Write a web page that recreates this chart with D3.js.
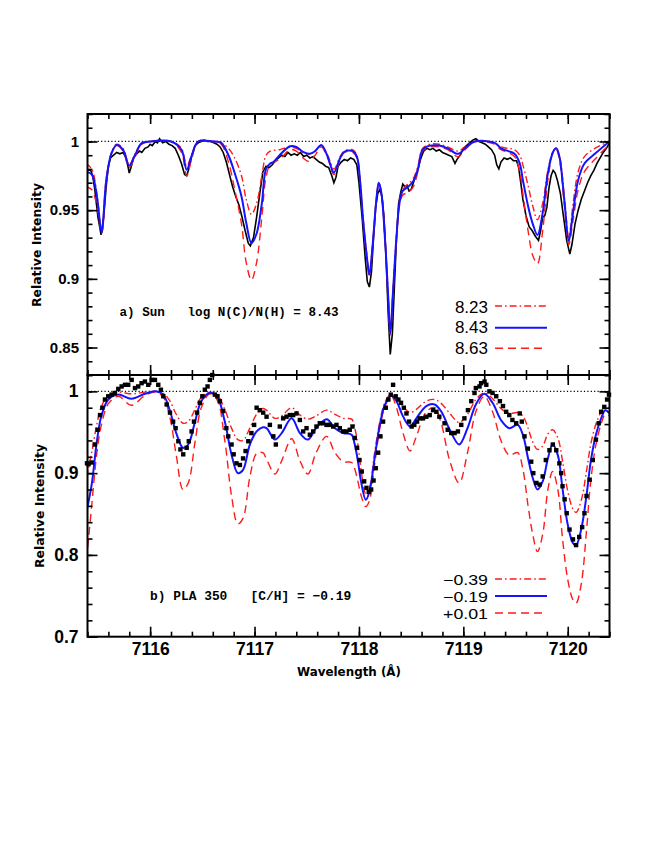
<!DOCTYPE html>
<html><head><meta charset="utf-8">
<script src="https://cdn.jsdelivr.net/npm/d3@7/dist/d3.min.js"></script>
<style>body{margin:0;background:#fff}svg{display:block}</style>
</head><body><svg id="c" width="664" height="860"></svg>
<script>
// ---------- data ----------
const xTicksMajor = [7116, 7117, 7118, 7119, 7120];
const yTicksTop = [0.85, 0.9, 0.95, 1];
const yTicksBottom = [0.7, 0.8, 0.9, 1];
const legendTop = ["8.23", "8.43", "8.63"];
const legendBottom = ["\u22120.39", "\u22120.19", "+0.01"];

const sunObserved = [[7115.38,0.976],[7115.40,0.979],[7115.43,0.979],[7115.45,0.975],[7115.47,0.965],[7115.50,0.945],[7115.53,0.932],[7115.555,0.945],[7115.58,0.968],[7115.60,0.982],[7115.62,0.988],[7115.65,0.990],[7115.68,0.992],[7115.71,0.991],[7115.74,0.992],[7115.77,0.988],[7115.79,0.981],[7115.80,0.977],[7115.82,0.982],[7115.84,0.988],[7115.87,0.991],[7115.90,0.993],[7115.92,0.992],[7115.95,0.995],[7115.98,0.996],[7116.00,0.998],[7116.02,0.997],[7116.05,1.000],[7116.07,0.999],[7116.09,1.002],[7116.12,0.999],[7116.15,1.000],[7116.18,0.998],[7116.21,0.997],[7116.24,0.995],[7116.27,0.990],[7116.30,0.984],[7116.33,0.976],[7116.35,0.975],[7116.37,0.980],[7116.40,0.990],[7116.43,0.997],[7116.46,0.999],[7116.49,1.000],[7116.52,1.001],[7116.55,1.000],[7116.58,1.000],[7116.61,0.999],[7116.64,0.998],[7116.67,0.996],[7116.70,0.992],[7116.73,0.985],[7116.76,0.976],[7116.79,0.967],[7116.82,0.960],[7116.85,0.954],[7116.88,0.945],[7116.91,0.935],[7116.94,0.926],[7116.96,0.924],[7116.99,0.930],[7117.02,0.945],[7117.05,0.962],[7117.08,0.978],[7117.11,0.982],[7117.14,0.981],[7117.17,0.983],[7117.20,0.986],[7117.23,0.988],[7117.26,0.990],[7117.29,0.989],[7117.32,0.992],[7117.35,0.990],[7117.38,0.991],[7117.41,0.990],[7117.44,0.992],[7117.47,0.989],[7117.50,0.990],[7117.53,0.988],[7117.56,0.989],[7117.59,0.987],[7117.62,0.985],[7117.65,0.984],[7117.68,0.982],[7117.71,0.981],[7117.74,0.975],[7117.76,0.970],[7117.78,0.974],[7117.80,0.982],[7117.83,0.985],[7117.86,0.987],[7117.89,0.986],[7117.92,0.988],[7117.95,0.987],[7117.98,0.983],[7118.00,0.970],[7118.03,0.945],[7118.06,0.915],[7118.08,0.898],[7118.10,0.894],[7118.12,0.905],[7118.14,0.930],[7118.16,0.952],[7118.18,0.962],[7118.20,0.965],[7118.22,0.960],[7118.24,0.945],[7118.26,0.915],[7118.28,0.875],[7118.30,0.845],[7118.32,0.860],[7118.34,0.895],[7118.36,0.930],[7118.38,0.955],[7118.40,0.963],[7118.42,0.969],[7118.44,0.967],[7118.46,0.968],[7118.48,0.964],[7118.50,0.965],[7118.53,0.972],[7118.56,0.978],[7118.59,0.987],[7118.62,0.993],[7118.65,0.995],[7118.68,0.994],[7118.71,0.995],[7118.74,0.993],[7118.77,0.994],[7118.80,0.992],[7118.83,0.991],[7118.86,0.990],[7118.89,0.989],[7118.92,0.984],[7118.94,0.987],[7118.97,0.990],[7119.00,0.995],[7119.03,0.997],[7119.06,0.999],[7119.09,1.001],[7119.12,1.002],[7119.15,1.000],[7119.18,0.999],[7119.21,0.998],[7119.24,0.996],[7119.27,0.994],[7119.30,0.990],[7119.32,0.983],[7119.34,0.980],[7119.36,0.985],[7119.39,0.988],[7119.42,0.987],[7119.45,0.988],[7119.48,0.986],[7119.51,0.986],[7119.53,0.981],[7119.55,0.970],[7119.57,0.958],[7119.60,0.946],[7119.63,0.938],[7119.66,0.935],[7119.69,0.931],[7119.72,0.928],[7119.74,0.935],[7119.76,0.945],[7119.78,0.946],[7119.80,0.952],[7119.82,0.966],[7119.84,0.975],[7119.86,0.979],[7119.88,0.977],[7119.90,0.972],[7119.93,0.962],[7119.96,0.945],[7119.99,0.928],[7120.02,0.918],[7120.04,0.925],[7120.07,0.940],[7120.10,0.950],[7120.13,0.958],[7120.16,0.964],[7120.19,0.970],[7120.22,0.975],[7120.25,0.979],[7120.28,0.984],[7120.31,0.988],[7120.34,0.992],[7120.37,0.995],[7120.40,0.999]];

const sunFit843 = [[7115.38,0.978],[7115.44,0.976],[7115.49,0.960],[7115.535,0.934],[7115.58,0.972],[7115.63,0.9916],[7115.68,0.9975],[7115.74,0.994],[7115.80,0.9824],[7115.855,0.990],[7115.92,0.9988],[7116.0,1.0],[7116.2,1.0],[7116.30,0.994],[7116.35,0.9795],[7116.40,0.990],[7116.46,1.0],[7116.60,1.0],[7116.68,0.999],[7116.75,0.990],[7116.81,0.977],[7116.875,0.960],[7116.92,0.941],[7116.97,0.926],[7117.02,0.933],[7117.07,0.955],[7117.11,0.980],[7117.15,0.984],[7117.18,0.985],[7117.24,0.990],[7117.34,0.9965],[7117.40,0.996],[7117.465,0.9925],[7117.53,0.991],[7117.58,0.993],[7117.64,0.9975],[7117.70,0.989],[7117.76,0.9775],[7117.82,0.988],[7117.86,0.9925],[7117.94,0.993],[7117.98,0.989],[7118.01,0.972],[7118.04,0.943],[7118.075,0.9165],[7118.10,0.903],[7118.13,0.9235],[7118.17,0.960],[7118.19,0.970],[7118.215,0.9625],[7118.25,0.9285],[7118.28,0.8875],[7118.30,0.860],[7118.325,0.889],[7118.36,0.931],[7118.39,0.956],[7118.42,0.964],[7118.47,0.967],[7118.52,0.971],[7118.565,0.980],[7118.61,0.994],[7118.68,0.997],[7118.77,0.997],[7118.85,0.995],[7118.95,0.991],[7119.03,0.996],[7119.11,1.0],[7119.30,0.999],[7119.36,0.995],[7119.43,0.993],[7119.49,0.991],[7119.54,0.984],[7119.57,0.972],[7119.62,0.953],[7119.665,0.940],[7119.71,0.932],[7119.76,0.948],[7119.81,0.977],[7119.86,0.9925],[7119.89,0.995],[7119.92,0.989],[7119.97,0.955],[7120.01,0.9274],[7120.05,0.948],[7120.10,0.972],[7120.16,0.984],[7120.26,0.991],[7120.4,1.0]];

const sunFit823 = [[7115.38,0.984],[7115.44,0.980],[7115.49,0.962],[7115.535,0.934],[7115.58,0.973],[7115.63,0.992],[7115.68,0.998],[7115.74,0.995],[7115.80,0.983],[7115.855,0.991],[7115.92,0.999],[7116.0,1.0],[7116.2,1.0],[7116.30,0.995],[7116.35,0.982],[7116.40,0.991],[7116.46,1.0],[7116.60,1.0],[7116.68,0.999],[7116.75,0.995],[7116.81,0.988],[7116.875,0.975],[7116.92,0.958],[7116.97,0.947],[7117.02,0.955],[7117.07,0.975],[7117.11,0.990],[7117.15,0.993],[7117.24,0.994],[7117.34,0.996],[7117.40,0.995],[7117.465,0.992],[7117.53,0.991],[7117.58,0.993],[7117.64,0.997],[7117.70,0.990],[7117.76,0.980],[7117.82,0.989],[7117.86,0.993],[7117.94,0.994],[7117.98,0.990],[7118.01,0.973],[7118.04,0.944],[7118.075,0.918],[7118.10,0.905],[7118.13,0.925],[7118.17,0.961],[7118.19,0.970],[7118.215,0.963],[7118.25,0.929],[7118.28,0.888],[7118.30,0.861],[7118.325,0.890],[7118.36,0.932],[7118.39,0.957],[7118.42,0.965],[7118.47,0.969],[7118.52,0.973],[7118.565,0.982],[7118.61,0.995],[7118.68,0.998],[7118.77,0.998],[7118.85,0.996],[7118.95,0.993],[7119.03,0.997],[7119.11,1.0],[7119.30,0.999],[7119.36,0.996],[7119.43,0.995],[7119.49,0.994],[7119.54,0.990],[7119.57,0.983],[7119.62,0.968],[7119.665,0.953],[7119.71,0.943],[7119.76,0.955],[7119.81,0.979],[7119.86,0.993],[7119.89,0.995],[7119.92,0.990],[7119.97,0.958],[7120.01,0.930],[7120.05,0.954],[7120.10,0.978],[7120.16,0.989],[7120.26,0.995],[7120.4,1.0]];

const sunFit863 = [[7115.38,0.967],[7115.44,0.965],[7115.49,0.953],[7115.535,0.933],[7115.58,0.970],[7115.63,0.991],[7115.68,0.997],[7115.74,0.993],[7115.80,0.981],[7115.855,0.989],[7115.92,0.998],[7116.0,1.0],[7116.2,1.0],[7116.30,0.992],[7116.35,0.975],[7116.40,0.988],[7116.46,1.0],[7116.60,1.0],[7116.68,0.998],[7116.75,0.985],[7116.81,0.965],[7116.875,0.940],[7116.92,0.912],[7116.97,0.899],[7117.02,0.912],[7117.07,0.945],[7117.11,0.974],[7117.15,0.983],[7117.24,0.987],[7117.34,0.994],[7117.40,0.993],[7117.465,0.988],[7117.52,0.9855],[7117.58,0.990],[7117.64,0.996],[7117.70,0.988],[7117.76,0.976],[7117.82,0.987],[7117.86,0.992],[7117.94,0.992],[7117.98,0.988],[7118.01,0.971],[7118.04,0.942],[7118.075,0.915],[7118.10,0.902],[7118.13,0.922],[7118.17,0.959],[7118.19,0.969],[7118.215,0.962],[7118.25,0.928],[7118.28,0.887],[7118.30,0.859],[7118.325,0.888],[7118.36,0.930],[7118.39,0.954],[7118.42,0.961],[7118.47,0.963],[7118.52,0.967],[7118.565,0.978],[7118.61,0.993],[7118.68,0.996],[7118.77,0.996],[7118.85,0.994],[7118.95,0.989],[7119.03,0.995],[7119.11,1.0],[7119.30,0.998],[7119.36,0.994],[7119.43,0.992],[7119.49,0.989],[7119.54,0.978],[7119.57,0.962],[7119.62,0.935],[7119.665,0.917],[7119.71,0.911],[7119.76,0.935],[7119.81,0.972],[7119.86,0.992],[7119.89,0.994],[7119.92,0.987],[7119.97,0.952],[7120.01,0.925],[7120.05,0.942],[7120.10,0.965],[7120.16,0.978],[7120.26,0.987],[7120.4,0.998]];

const plaObserved = [[7115.395,0.912],[7115.41,0.911],[7115.44,0.913],[7115.47,0.935],[7115.497,0.953],[7115.52,0.971],[7115.542,0.980],[7115.567,0.990],[7115.599,0.994],[7115.631,0.996],[7115.663,0.998],[7115.695,1.003],[7115.727,1.006],[7115.759,1.008],[7115.79,1.008],[7115.823,1.014],[7115.855,1.004],[7115.886,1.006],[7115.918,1.010],[7115.95,1.012],[7115.982,1.008],[7116.014,1.014],[7116.046,1.014],[7116.078,1.008],[7116.103,1.002],[7116.126,0.994],[7116.158,0.984],[7116.19,0.974],[7116.22,0.963],[7116.244,0.955],[7116.27,0.939],[7116.29,0.929],[7116.317,0.923],[7116.35,0.931],[7116.37,0.939],[7116.397,0.951],[7116.42,0.963],[7116.45,0.974],[7116.476,0.986],[7116.5,0.994],[7116.524,1.002],[7116.55,1.006],[7116.572,1.014],[7116.595,1.020],[7116.62,0.996],[7116.645,0.994],[7116.668,0.988],[7116.70,0.976],[7116.73,0.955],[7116.748,0.945],[7116.78,0.935],[7116.80,0.923],[7116.827,0.912],[7116.86,0.910],[7116.89,0.918],[7116.914,0.927],[7116.94,0.939],[7116.97,0.949],[7116.996,0.959],[7117.02,0.980],[7117.05,0.977],[7117.083,0.974],[7117.115,0.969],[7117.147,0.959],[7117.18,0.945],[7117.204,0.935],[7117.242,0.957],[7117.274,0.967],[7117.306,0.969],[7117.338,0.971],[7117.37,0.971],[7117.402,0.973],[7117.434,0.965],[7117.466,0.951],[7117.498,0.955],[7117.53,0.947],[7117.562,0.951],[7117.593,0.957],[7117.625,0.961],[7117.657,0.961],[7117.689,0.959],[7117.72,0.959],[7117.753,0.957],[7117.785,0.959],[7117.817,0.955],[7117.848,0.951],[7117.88,0.951],[7117.912,0.953],[7117.938,0.957],[7117.96,0.943],[7117.982,0.931],[7118.005,0.916],[7118.027,0.902],[7118.05,0.890],[7118.072,0.882],[7118.094,0.877],[7118.117,0.880],[7118.14,0.891],[7118.161,0.906],[7118.184,0.925],[7118.206,0.945],[7118.231,0.963],[7118.257,0.980],[7118.282,0.990],[7118.305,0.996],[7118.327,1.008],[7118.352,0.994],[7118.378,0.990],[7118.403,0.986],[7118.43,0.980],[7118.455,0.973],[7118.48,0.963],[7118.505,0.957],[7118.53,0.959],[7118.557,0.963],[7118.582,0.967],[7118.614,0.967],[7118.646,0.969],[7118.678,0.971],[7118.71,0.977],[7118.742,0.975],[7118.77,0.969],[7118.82,0.961],[7118.85,0.953],[7118.884,0.949],[7118.916,0.949],[7118.948,0.951],[7118.98,0.959],[7119.01,0.967],[7119.044,0.977],[7119.076,0.988],[7119.107,0.998],[7119.12,1.004],[7119.155,1.006],[7119.17,1.010],[7119.203,1.012],[7119.22,1.008],[7119.25,1.000],[7119.28,0.998],[7119.315,0.994],[7119.35,0.988],[7119.38,0.982],[7119.41,0.975],[7119.44,0.971],[7119.47,0.965],[7119.506,0.961],[7119.54,0.973],[7119.56,0.963],[7119.586,0.945],[7119.618,0.930],[7119.65,0.914],[7119.67,0.900],[7119.70,0.888],[7119.73,0.886],[7119.76,0.896],[7119.79,0.916],[7119.825,0.928],[7119.857,0.935],[7119.89,0.928],[7119.92,0.912],[7119.937,0.900],[7119.95,0.884],[7119.97,0.868],[7119.99,0.851],[7120.017,0.831],[7120.05,0.819],[7120.08,0.812],[7120.11,0.822],[7120.138,0.834],[7120.16,0.851],[7120.18,0.872],[7120.21,0.892],[7120.24,0.916],[7120.27,0.941],[7120.297,0.961],[7120.32,0.975],[7120.35,0.981],[7120.377,0.990],[7120.395,0.996]];

const plaFit019 = [[7115.39,0.853],[7115.44,0.886],[7115.49,0.939],[7115.535,0.971],[7115.60,0.990],[7115.695,0.996],[7115.82,0.991],[7115.95,0.997],[7116.05,1.0],[7116.125,0.996],[7116.19,0.976],[7116.25,0.949],[7116.315,0.931],[7116.365,0.935],[7116.43,0.963],[7116.49,0.988],[7116.57,0.998],[7116.64,0.994],[7116.715,0.963],[7116.78,0.9225],[7116.84,0.900],[7116.89,0.904],[7116.955,0.935],[7117.02,0.951],[7117.08,0.956],[7117.115,0.955],[7117.195,0.941],[7117.26,0.949],[7117.355,0.967],[7117.435,0.949],[7117.51,0.941],[7117.59,0.955],[7117.69,0.966],[7117.77,0.955],[7117.85,0.949],[7117.93,0.947],[7117.96,0.935],[7117.99,0.915],[7118.02,0.890],[7118.065,0.8675],[7118.10,0.877],[7118.15,0.918],[7118.20,0.959],[7118.25,0.984],[7118.31,0.995],[7118.36,0.988],[7118.42,0.970],[7118.49,0.957],[7118.55,0.967],[7118.645,0.982],[7118.725,0.984],[7118.79,0.975],[7118.87,0.953],[7118.96,0.935],[7119.04,0.955],[7119.12,0.984],[7119.20,0.997],[7119.28,0.986],[7119.36,0.965],[7119.44,0.955],[7119.52,0.959],[7119.57,0.947],[7119.62,0.918],[7119.665,0.894],[7119.71,0.880],[7119.76,0.890],[7119.81,0.918],[7119.855,0.935],[7119.905,0.922],[7119.95,0.881],[7120.0,0.837],[7120.05,0.8145],[7120.08,0.812],[7120.13,0.832],[7120.18,0.873],[7120.22,0.914],[7120.27,0.947],[7120.32,0.967],[7120.36,0.977],[7120.40,0.973]];

const plaFit039 = [[7115.39,0.895],[7115.44,0.925],[7115.49,0.960],[7115.535,0.982],[7115.60,0.995],[7115.695,0.999],[7115.82,0.997],[7115.95,0.999],[7116.05,1.0],[7116.125,0.998],[7116.19,0.988],[7116.25,0.972],[7116.315,0.961],[7116.365,0.963],[7116.43,0.978],[7116.49,0.993],[7116.57,0.999],[7116.64,0.996],[7116.715,0.978],[7116.78,0.955],[7116.84,0.941],[7116.89,0.940],[7116.955,0.955],[7117.02,0.972],[7117.08,0.979],[7117.115,0.977],[7117.195,0.967],[7117.26,0.970],[7117.355,0.980],[7117.435,0.971],[7117.51,0.966],[7117.59,0.970],[7117.69,0.977],[7117.77,0.972],[7117.85,0.967],[7117.93,0.966],[7117.96,0.955],[7117.99,0.935],[7118.02,0.905],[7118.065,0.875],[7118.10,0.882],[7118.15,0.925],[7118.20,0.963],[7118.25,0.987],[7118.31,0.997],[7118.36,0.993],[7118.42,0.982],[7118.49,0.974],[7118.55,0.978],[7118.645,0.988],[7118.725,0.990],[7118.79,0.985],[7118.87,0.973],[7118.96,0.962],[7119.04,0.972],[7119.12,0.990],[7119.20,0.998],[7119.28,0.991],[7119.36,0.979],[7119.44,0.973],[7119.52,0.974],[7119.57,0.970],[7119.62,0.955],[7119.665,0.938],[7119.71,0.929],[7119.76,0.933],[7119.81,0.948],[7119.855,0.953],[7119.905,0.943],[7119.95,0.915],[7120.0,0.878],[7120.05,0.856],[7120.08,0.852],[7120.13,0.867],[7120.18,0.903],[7120.22,0.935],[7120.27,0.960],[7120.32,0.975],[7120.36,0.982],[7120.40,0.980]];

const plaFit001 = [[7115.39,0.793],[7115.44,0.860],[7115.49,0.925],[7115.535,0.960],[7115.60,0.985],[7115.695,0.994],[7115.82,0.983],[7115.95,0.995],[7116.05,0.999],[7116.125,0.993],[7116.19,0.968],[7116.25,0.922],[7116.315,0.880],[7116.365,0.888],[7116.43,0.938],[7116.49,0.980],[7116.57,0.997],[7116.64,0.990],[7116.715,0.940],[7116.78,0.872],[7116.84,0.838],[7116.89,0.845],[7116.955,0.895],[7117.02,0.924],[7117.08,0.925],[7117.115,0.917],[7117.195,0.899],[7117.26,0.915],[7117.355,0.942],[7117.435,0.915],[7117.51,0.899],[7117.59,0.925],[7117.69,0.945],[7117.77,0.925],[7117.85,0.914],[7117.93,0.913],[7117.96,0.905],[7117.99,0.890],[7118.02,0.873],[7118.065,0.859],[7118.10,0.866],[7118.15,0.910],[7118.20,0.955],[7118.25,0.982],[7118.31,0.994],[7118.36,0.980],[7118.42,0.950],[7118.49,0.927],[7118.55,0.945],[7118.645,0.975],[7118.725,0.980],[7118.79,0.960],[7118.87,0.915],[7118.96,0.888],[7119.04,0.925],[7119.12,0.975],[7119.20,0.994],[7119.28,0.975],[7119.36,0.940],[7119.44,0.922],[7119.52,0.925],[7119.57,0.905],[7119.62,0.860],[7119.665,0.825],[7119.71,0.804],[7119.76,0.825],[7119.81,0.880],[7119.855,0.902],[7119.905,0.880],[7119.95,0.820],[7120.0,0.770],[7120.05,0.745],[7120.08,0.741],[7120.13,0.765],[7120.18,0.830],[7120.22,0.890],[7120.27,0.935],[7120.32,0.960],[7120.36,0.972],[7120.40,0.970]];

// ---------- layout ----------
const L = 87.5, R = 609.5, T1 = 114, B1 = 375, T2 = 375, B2 = 636.7;
const RED = "#ff1a1a", BLUE = "#1414ff";
const DASHDOT = "7,3,1.6,3", DASHED = "8,5";

const svg = d3.select("#c");
svg.append("rect").attr("width",664).attr("height",860).attr("fill","#fff");

const x = d3.scaleLinear().domain([7115.4, 7120.4]).range([L, R]);
const yTop = d3.scaleLinear().domain([0.83, 1.02]).range([B1, T1]);
const yBot = d3.scaleLinear().domain([0.7, 1.02]).range([B2, T2]);

const defs = svg.append("defs");
defs.append("clipPath").attr("id","clipTop").append("rect").attr("x",L).attr("y",T1).attr("width",R-L).attr("height",B1-T1);
defs.append("clipPath").attr("id","clipBot").append("rect").attr("x",L).attr("y",T2).attr("width",R-L).attr("height",B2-T2);

const minorX = d3.range(7115.4, 7120.41, 0.2).map(v => +v.toFixed(1));

function panel(y, top, bottom, yMajor, yMinorStep, labelSize, yLabelPad, showXLabels) {
  const g = svg.append("g");
  const yMinor = d3.range(y.domain()[0], y.domain()[1] + 1e-9, yMinorStep).map(v => +v.toFixed(3));
  const fmt = d3.format("");
  g.append("g").attr("transform",`translate(0,${bottom})`)
    .call(d3.axisBottom(x).tickValues(minorX).tickSize(-5).tickFormat(""));
  g.append("g").attr("transform",`translate(0,${bottom})`)
    .call(d3.axisBottom(x).tickValues(xTicksMajor).tickSize(-10).tickPadding(6).tickFormat(showXLabels ? d3.format("d") : ""));
  g.append("g").attr("transform",`translate(0,${top})`)
    .call(d3.axisBottom(x).tickValues(minorX).tickSize(5).tickFormat(""));
  g.append("g").attr("transform",`translate(0,${top})`)
    .call(d3.axisBottom(x).tickValues(xTicksMajor).tickSize(10).tickFormat(""));
  g.append("g").attr("transform",`translate(${L},0)`)
    .call(d3.axisLeft(y).tickValues(yMinor).tickSize(-5).tickFormat(""));
  g.append("g").attr("transform",`translate(${L},0)`)
    .call(d3.axisLeft(y).tickValues(yMajor).tickSize(-10).tickPadding(yLabelPad).tickFormat(d => fmt(d)));
  g.append("g").attr("transform",`translate(${R},0)`)
    .call(d3.axisLeft(y).tickValues(yMinor).tickSize(5).tickFormat(""));
  g.append("g").attr("transform",`translate(${R},0)`)
    .call(d3.axisLeft(y).tickValues(yMajor).tickSize(10).tickFormat(""));
  g.selectAll(".domain").remove();
  g.selectAll(".tick line").attr("stroke","#000").attr("stroke-width",1.6);
  g.selectAll(".tick text").attr("fill","#000")
    .style("font-family","'Liberation Sans', Arial, Helvetica, sans-serif")
    .style("font-weight","bold").style("font-size", labelSize + "px");
  return g;
}

function lineFor(y, curve) {
  return d3.line().x(d => x(d[0])).y(d => y(d[1])).curve(curve);
}
const smooth = d3.curveCatmullRom.alpha(0.5);

// ---------- top panel ----------
const gTopData = svg.append("g").attr("clip-path","url(#clipTop)");
gTopData.append("line").attr("x1",L).attr("x2",R).attr("y1",yTop(1)).attr("y2",yTop(1))
  .attr("stroke","#000").attr("stroke-width",1.3).attr("stroke-dasharray","1.2,2.2");
gTopData.append("path").datum(sunObserved).attr("d", lineFor(yTop, d3.curveLinear))
  .attr("fill","none").attr("stroke","#000").attr("stroke-width",1.6);
gTopData.append("path").datum(sunFit863).attr("d", lineFor(yTop, smooth))
  .attr("fill","none").attr("stroke",RED).attr("stroke-width",1.4).attr("stroke-dasharray",DASHED);
gTopData.append("path").datum(sunFit823).attr("d", lineFor(yTop, smooth))
  .attr("fill","none").attr("stroke",RED).attr("stroke-width",1.4).attr("stroke-dasharray",DASHDOT);
gTopData.append("path").datum(sunFit843).attr("d", lineFor(yTop, smooth))
  .attr("fill","none").attr("stroke",BLUE).attr("stroke-width",2);

panel(yTop, T1, B1, yTicksTop, 0.01, 15, 8.5, false);

// ---------- bottom panel ----------
const gBotData = svg.append("g").attr("clip-path","url(#clipBot)");
gBotData.append("line").attr("x1",L).attr("x2",R).attr("y1",yBot(1)).attr("y2",yBot(1))
  .attr("stroke","#000").attr("stroke-width",1.3).attr("stroke-dasharray","1.2,2.2");
gBotData.append("path").datum(plaFit001).attr("d", lineFor(yBot, smooth))
  .attr("fill","none").attr("stroke",RED).attr("stroke-width",1.4).attr("stroke-dasharray",DASHED);
gBotData.append("path").datum(plaFit039).attr("d", lineFor(yBot, smooth))
  .attr("fill","none").attr("stroke",RED).attr("stroke-width",1.4).attr("stroke-dasharray",DASHDOT);
gBotData.append("path").datum(plaFit019).attr("d", lineFor(yBot, smooth))
  .attr("fill","none").attr("stroke",BLUE).attr("stroke-width",2);
const sq = 4.4;
svg.append("g").selectAll("rect").data(plaObserved).join("rect")
  .attr("x", d => x(d[0]) - sq/2).attr("y", d => yBot(d[1]) - sq/2)
  .attr("width", sq).attr("height", sq).attr("fill","#000");

panel(yBot, T2, B2, yTicksBottom, 0.02, 17.5, 9, true);

// frames
[[T1,B1],[T2,B2]].forEach(([t,b]) => {
  svg.append("rect").attr("x",L).attr("y",t).attr("width",R-L).attr("height",b-t)
    .attr("fill","none").attr("stroke","#000").attr("stroke-width",2);
});

// axis titles
const titleFont = "'DejaVu Sans', Verdana, sans-serif";
[[41, 245],[44, 506]].forEach(([tx,ty]) => {
  svg.append("text").attr("transform",`translate(${tx},${ty}) rotate(-90)`)
    .attr("text-anchor","middle").attr("textLength",124).attr("lengthAdjust","spacingAndGlyphs")
    .style("font-family",titleFont).style("font-weight","bold").style("font-size","12.5px")
    .text("Relative Intensity");
});
svg.append("text").attr("x",349).attr("y",676).attr("text-anchor","middle")
  .attr("textLength",104).attr("lengthAdjust","spacingAndGlyphs")
  .style("font-family",titleFont).style("font-weight","bold").style("font-size","12.5px")
  .text("Wavelength (\u00c5)");

// panel annotations
const mono = "'Liberation Mono', 'DejaVu Sans Mono', monospace";
svg.append("text").attr("x",119.5).attr("y",316).attr("xml:space","preserve")
  .style("font-family",mono).style("font-weight","bold").style("font-size","12.6px")
  .text("a) Sun   log N(C)/N(H) = 8.43");
svg.append("text").attr("x",150).attr("y",600).attr("xml:space","preserve")
  .style("font-family",mono).style("font-weight","bold").style("font-size","12.9px")
  .text("b) PLA 350   [C/H] = \u22120.19");

// legends
const legStyles = [
  {stroke: RED, dash: DASHDOT, w: 1.4},
  {stroke: BLUE, dash: null, w: 2},
  {stroke: RED, dash: DASHED, w: 1.4}
];
function legend(labels, baselines, lineYs, size, widths) {
  labels.forEach((lab, i) => {
    const t = svg.append("text").attr("x",488).attr("y",baselines[i]).attr("text-anchor","end")
      .style("font-family","'Liberation Sans', Arial, Helvetica, sans-serif")
      .style("font-size", size + "px").text(lab);
    if (widths) t.attr("textLength", widths[i]).attr("lengthAdjust","spacingAndGlyphs");
    const ln = svg.append("line").attr("x1",495).attr("x2",547).attr("y1",lineYs[i]).attr("y2",lineYs[i])
      .attr("stroke",legStyles[i].stroke).attr("stroke-width",legStyles[i].w);
    if (legStyles[i].dash) ln.attr("stroke-dasharray",legStyles[i].dash);
  });
}
legend(legendTop, [312.7, 333.3, 354], [306, 327.7, 348.3], 17, null);
legend(legendBottom, [584.5, 601.5, 618.5], [579, 596, 613], 14.5, [45, 45, 45]);
</script>
</body></html>
